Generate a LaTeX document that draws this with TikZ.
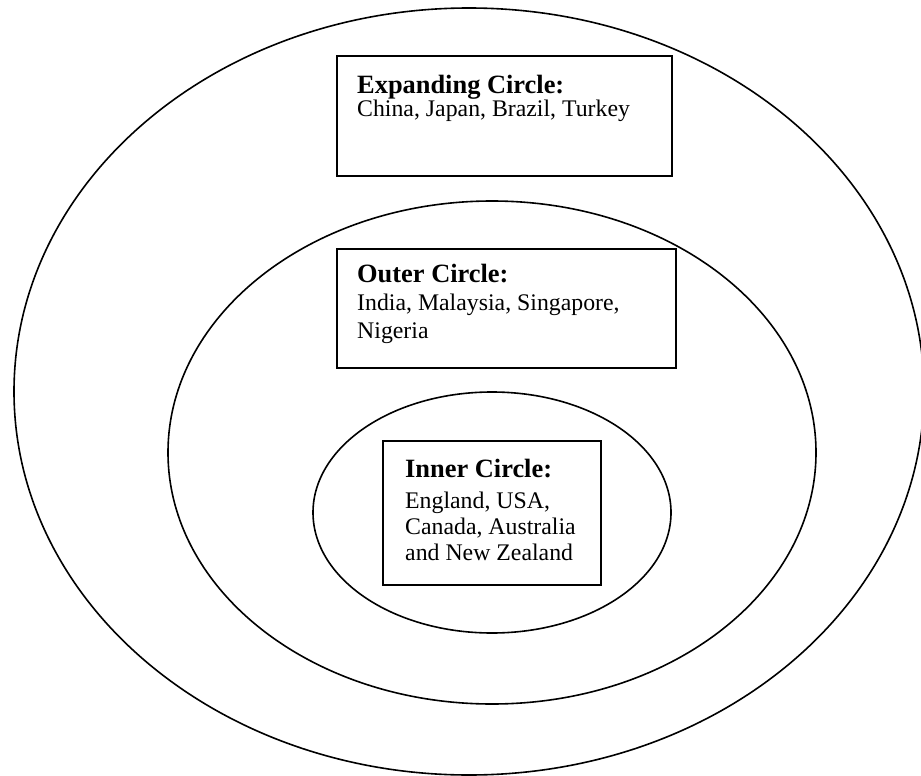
\documentclass[tikz,border=0pt]{standalone}
\usepackage{fontspec}
\setmainfont{Liberation Serif}
\begin{document}
\begin{tikzpicture}[x=1pt,y=-1pt,
  ring/.style={draw=black, line width=1.6pt},
  labelbox/.style={draw=black, line width=2pt, rectangle, inner sep=0pt},
  head/.style={anchor=base west, inner sep=0pt, font=\fontsize{26.4}{30}\selectfont\bfseries},
  body/.style={anchor=base west, inner sep=0pt, font=\fontsize{23.8}{27}\selectfont}]
\useasboundingbox (0,0) rectangle (921,776);
% circles
\draw[ring] (469,391.5) ellipse [x radius=455pt, y radius=383.5pt];
\draw[ring] (492,452.5) ellipse [x radius=324pt, y radius=251.5pt];
\draw[ring] (492,512.5) ellipse [x radius=179pt, y radius=120.5pt];
% boxes
\node[labelbox, minimum width=335pt, minimum height=120pt] (expbox) at (504.5,116) {};
\node[labelbox, minimum width=339pt, minimum height=119pt] (outbox) at (506.5,308.5) {};
\node[labelbox, minimum width=218pt, minimum height=144pt] (innbox) at (492,513) {};
% texts
\node[head] (exph) at (357,93) {Expanding Circle:};
\node[body] (expt) at (357,116) {China, Japan, Brazil, Turkey};
\node[head] (outh) at (357,282) {Outer Circle:};
\node[body] (outt1) at (357,310) {India, Malaysia, Singapore,};
\node[body] (outt2) at (357,338) {Nigeria};
\node[head] (innh) at (405,477) {Inner Circle:};
\node[body] (innt1) at (405,508) {England, USA,};
\node[body] (innt2) at (405,534) {Canada, Australia};
\node[body] (innt3) at (405,560) {and New Zealand};
\end{tikzpicture}
\end{document}
